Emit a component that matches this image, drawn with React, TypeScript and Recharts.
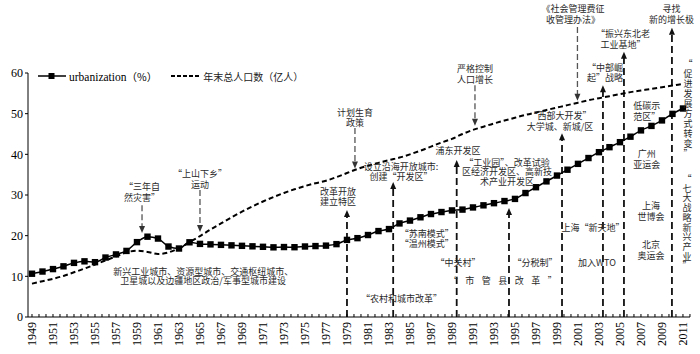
import React from 'react';
import { LineChart, Line, XAxis, YAxis, ReferenceLine, ReferenceDot } from 'recharts';

const years = [1949,1950,1951,1952,1953,1954,1955,1956,1957,1958,1959,1960,1961,1962,1963,1964,1965,1966,1967,1968,1969,1970,1971,1972,1973,1974,1975,1976,1977,1978,1979,1980,1981,1982,1983,1984,1985,1986,1987,1988,1989,1990,1991,1992,1993,1994,1995,1996,1997,1998,1999,2000,2001,2002,2003,2004,2005,2006,2007,2008,2009,2010,2011];

const urbanization = [10.64,11.18,11.78,12.46,13.31,13.69,13.48,14.62,15.39,16.25,18.41,19.75,19.29,17.33,16.84,18.37,17.98,17.86,17.74,17.62,17.50,17.38,17.26,17.13,17.20,17.16,17.34,17.44,17.55,17.92,18.96,19.39,20.16,21.13,21.62,23.01,23.71,24.52,25.32,25.81,26.21,26.41,26.94,27.46,27.99,28.51,29.04,30.48,31.91,33.35,34.78,36.22,37.66,39.09,40.53,41.76,42.99,44.34,45.89,46.99,48.34,49.95,51.27];

const population = [8.2,8.8,9.4,10.1,11.0,11.9,12.9,13.9,14.9,15.9,16.3,16.0,15.5,15.9,16.9,18.4,19.9,21.5,23.0,24.5,25.9,27.2,28.4,29.5,30.5,31.4,32.2,32.9,33.5,34.4,35.4,36.4,37.2,37.9,38.6,39.2,40.0,40.9,41.9,42.9,43.8,45.0,46.0,46.8,47.6,48.3,49.0,49.7,50.3,50.9,51.5,52.1,52.7,53.3,53.8,54.3,54.8,55.3,55.7,56.1,56.5,56.9,57.3];

const yTicks = [0,10,20,30,40,50,60];
const seriesNames = { urban: 'urbanization（%）', pop: '年末总人口数（亿人）' };

const data = years.map((y, i) => ({ year: y, urban: urbanization[i], pop: population[i] }));

// minor ticks every 2/3 year, labels on odd years
const xTicks: number[] = [];
for (let k = 0; k <= 94; k++) xTicks.push(1949 + (2 * k) / 3);

// policy annotations: [year, value of first line, lines]
const notes: { year: number; value: number; lines: string[]; lh?: number; ls?: number }[] = [
  { year: 1959.48, value: 32.2, lines: ['“三年自', '然灾害”'] },
  { year: 1965.0, value: 35.4, lines: ['“上山下乡”', '运动'] },
  { year: 1965.3, value: 11.4, lines: ['新兴工业城市、资源型城市、交通枢纽城市、', '卫星城以及边疆地区政治/军事型城市建设'], lh: 9.8 },
  { year: 1978.14, value: 31.05, lines: ['改革开放', '建立特区'] },
  { year: 1984.14, value: 37.2, lines: ['设立沿海开放城市:', '创建“开发区”'] },
  { year: 1979.76, value: 50.5, lines: ['计划生育', '政策'] },
  { year: 1989.57, value: 41.06, lines: ['浦东开发区'] },
  { year: 1994.24, value: 38.19, lines: ['“工业园”、改革试验', '区经济开发区、高新技', '术产业开发区'], lh: 9.6 },
  { year: 1991.19, value: 61.15, lines: ['严格控制', '人口增长'] },
  { year: 2000.52, value: 75.9, lines: ['《社会管理费征', '收管理办法》'] },
  { year: 2009.92, value: 75.9, lines: ['寻找', '新的增长极'] },
  { year: 2005.29, value: 69.83, lines: ['“振兴东北老', '工业基地”'] },
  { year: 2003.57, value: 61.54, lines: ['“中部崛', '起”战略'] },
  { year: 1999.29, value: 49.67, lines: ['“西部大开发”', '大学城、新城/区'] },
  { year: 2007.54, value: 52.13, lines: ['低碳示', '范区”'] },
  { year: 2007.54, value: 40.32, lines: ['广州', '亚运会'] },
  { year: 2007.95, value: 27.54, lines: ['上海', '世博会'] },
  { year: 2007.95, value: 17.95, lines: ['北京', '奥运会'] },
  { year: 2002.43, value: 22.2, lines: ['上海“新天地”'] },
  { year: 2002.81, value: 13.6, lines: ['加入WTO'] },
  { year: 1996.9, value: 13.6, lines: ['“分税制”'] },
  { year: 1989.57, value: 13.6, lines: ['“中关村”'] },
  { year: 1994.2, value: 9.1, lines: ['“市管县改革”'], ls: 7.5 },
  { year: 1986.59, value: 20.73, lines: ['“苏南模式”', '“温州模式”'] },
  { year: 1984.19, value: 4.6, lines: ['“农村和城市改革”'] },
  { year: 2011.48, value: 62.45, lines: '“促进发展方式转变”'.split(''), lh: 10 },
  { year: 2011.38, value: 34.18, lines: '“七大战略新兴产业”'.split(''), lh: 9.7 },
];

// up arrows from the axis: [year, tip value]
const upArrows: [number, number][] = [
  [1979.0, 26.3], [1983.4, 33.2], [1989.45, 38.6], [1994.43, 26.8],
  [1999.48, 45.2], [2003.38, 57.0], [2005.38, 65.2], [2009.95, 71.1],
];
// down arrows: [year, from value, tip value]
const downArrows: [number, number, number][] = [
  [1959.48, 27.5, 20.65], [1965.0, 31.2, 20.9], [1979.76, 46.5, 36.5],
  [1991.19, 57.0, 47.0], [2000.95, 71.3, 53.2],
];

const CJK = "'Noto Sans CJK SC', 'Liberation Serif', serif";
const SERIF = "'Liberation Serif', 'Times New Roman', serif";

const XTick = (props: any) => {
  const { x, y, payload } = props;
  const v = payload.value;
  const yr = Math.round(v);
  const isLabel = Math.abs(v - yr) < 0.01 && yr % 2 === 1;
  return (
    <g>
      <line x1={x} y1={y} x2={x} y2={y - 3} stroke="#000" strokeWidth={1} />
      {isLabel && (
        <text x={x} y={y + 5} transform={`rotate(-90 ${x} ${y + 5})`} textAnchor="end" dominantBaseline="central"
          style={{ fontFamily: SERIF, fontSize: 12, fill: '#000' }}>{yr}</text>
      )}
    </g>
  );
};

const SquareDot = (props: any) => {
  const { cx, cy } = props;
  if (cx == null || cy == null) return null;
  return <rect x={cx - 3.2} y={cy - 3.2} width={6.4} height={6.4} fill="#000" />;
};

const NoteText = ({ cx, cy, lines, lh = 10.5, ls = 0 }: any) => (
  <text x={cx} y={cy} textAnchor="middle" dominantBaseline="central"
    style={{ fontFamily: CJK, fontSize: 9, fill: '#2a2a2a', letterSpacing: ls }}>
    {lines.map((t: string, i: number) => (
      <tspan key={i} x={cx} dy={i === 0 ? 0 : lh}>{t}</tspan>
    ))}
  </text>
);

const Head = ({ cx, cy, up }: any) =>
  up ? <path d={`M${cx},${cy} L${cx - 3},${cy + 7} L${cx + 3},${cy + 7} Z`} fill="#111" />
     : <path d={`M${cx},${cy} L${cx - 3},${cy - 7} L${cx + 3},${cy - 7} Z`} fill="#333" />;

export default function App() {
  return (
    <div style={{ position: 'absolute', left: 0, top: 0, width: 700, height: 354, background: '#fff' }}>
      <LineChart width={700} height={354} data={data} margin={{ top: 73, right: 10, bottom: 0, left: 0 }}>
        <XAxis dataKey="year" type="number" domain={[1948.62, 2011.67]} allowDataOverflow ticks={xTicks} interval={0}
          tick={<XTick />} tickLine={false} tickSize={0} tickMargin={0} height={37} axisLine={{ stroke: '#000' }} />
        <YAxis domain={[0, 60]} ticks={yTicks} width={28} tickSize={3} tickMargin={2} axisLine={{ stroke: '#000' }}
          tickLine={{ stroke: '#000' }} tick={{ fontFamily: SERIF, fontSize: 12, fill: '#000' }} />
        {upArrows.map(([yr, tip], i) => (
          <ReferenceLine key={'u' + i} segment={[{ x: yr, y: 0 }, { x: yr, y: tip - 1 }]} ifOverflow="visible"
            stroke="#111" strokeWidth={1.8} strokeDasharray="7 4" />
        ))}
        {upArrows.map(([yr, tip], i) => (
          <ReferenceDot key={'uh' + i} x={yr} y={tip} r={0} ifOverflow="visible"
            shape={(p: any) => <Head cx={p.cx} cy={p.cy} up />} />
        ))}
        {downArrows.map(([yr, from, tip], i) => (
          <ReferenceLine key={'d' + i} segment={[{ x: yr, y: from }, { x: yr, y: tip + 1 }]} ifOverflow="visible"
            stroke="#555" strokeWidth={1.3} strokeDasharray="6 3" />
        ))}
        {downArrows.map(([yr, , tip], i) => (
          <ReferenceDot key={'dh' + i} x={yr} y={tip} r={0} ifOverflow="visible"
            shape={(p: any) => <Head cx={p.cx} cy={p.cy} up={false} />} />
        ))}
        <Line type="monotone" dataKey="pop" name={seriesNames.pop} stroke="#000" strokeWidth={2} strokeDasharray="5 3"
          dot={false} isAnimationActive={false} />
        <Line type="monotone" dataKey="urban" name={seriesNames.urban} stroke="#000" strokeWidth={1.5}
          dot={<SquareDot />} isAnimationActive={false} />
        {notes.map((n, i) => (
          <ReferenceDot key={'n' + i} x={n.year} y={n.value} r={0} ifOverflow="visible"
            shape={(p: any) => <NoteText cx={p.cx} cy={p.cy} lines={n.lines} lh={n.lh} ls={n.ls} />} />
        ))}
      </LineChart>
      <div style={{ position: 'absolute', left: 38, top: 70, height: 12, display: 'flex', alignItems: 'center', whiteSpace: 'nowrap' }}>
        <svg width={28} height={12} style={{ display: 'block' }}>
          <line x1={0} y1={6} x2={28} y2={6} stroke="#000" strokeWidth={1.5} />
          <rect x={10.5} y={3} width={6} height={6} fill="#000" />
        </svg>
        <span style={{ fontFamily: SERIF, fontSize: 11.5, marginLeft: 3, color: '#000' }}>urbanization<span style={{ fontFamily: CJK, fontSize: 10.5 }}>（%）</span></span>
        <svg width={30} height={12} style={{ display: 'block', marginLeft: 14 }}>
          <line x1={0} y1={6} x2={28} y2={6} stroke="#000" strokeWidth={2} strokeDasharray="4 2" />
        </svg>
        <span style={{ fontFamily: CJK, fontSize: 10, marginLeft: 2, color: '#222' }}>{seriesNames.pop}</span>
      </div>
    </div>
  );
}
